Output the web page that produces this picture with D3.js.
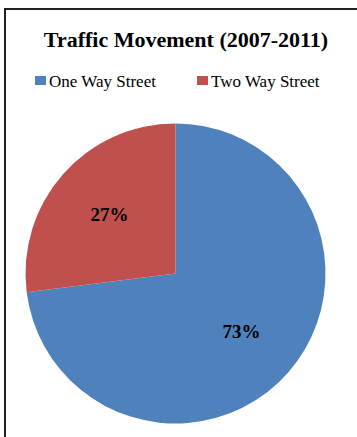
<!DOCTYPE html>
<html><head><meta charset="utf-8">
<script src="https://cdn.jsdelivr.net/npm/d3@7"></script>
<style>
body{margin:0;background:#fff}
#wrap{position:relative;width:357px;height:437px;overflow:hidden}
#wrap svg{position:absolute;left:0;top:0}
.t{position:absolute;font-family:'Liberation Serif','Times New Roman',serif;white-space:nowrap;line-height:1;color:#000}
</style>
</head><body>
<div id="wrap"><svg width="357" height="437"></svg></div>
<script>
const categories = ["One Way Street", "Two Way Street"];
const values = [73, 27];
const labels = ["73%", "27%"];
const colors = ["#4F81BD", "#C0504D"];

const wrap = d3.select("#wrap");
const svg = wrap.select("svg");
svg.append("rect").attr("x", 5).attr("y", 9).attr("width", 360).attr("height", 440)
  .attr("fill", "#fff").attr("stroke", "#222").attr("stroke-width", 2);

wrap.append("div").attr("class", "t")
  .style("left", "0px").style("width", "372px").style("text-align", "center")
  .style("top", "29px").style("font-size", "22px").style("font-weight", "bold")
  .text("Traffic Movement (2007-2011)");

const legendX = [35, 197];
categories.forEach((c, i) => {
  svg.append("rect").attr("x", legendX[i]).attr("y", 76).attr("width", 11).attr("height", 9).attr("fill", colors[i]);
  wrap.append("div").attr("class", "t")
    .style("left", (legendX[i] + 14) + "px").style("top", "73px").style("font-size", "17px")
    .text(c);
});

const cx = 175.5, cy = 273.5, r = 150;
const pie = d3.pie().sort(null).value(d => d)(values);
const arc = d3.arc().innerRadius(0).outerRadius(r);
const g = svg.append("g").attr("transform", `translate(${cx},${cy})`);
g.selectAll("path").data(pie).join("path").attr("d", arc).attr("fill", (d, i) => colors[i]);
const larc = d3.arc().innerRadius(176).outerRadius(0);
pie.forEach((d, i) => {
  const [x, y] = larc.centroid(d);
  wrap.append("div").attr("class", "t")
    .style("left", (cx + x - 30) + "px").style("width", "60px").style("text-align", "center")
    .style("top", (cy + y - 10) + "px").style("font-size", "19px").style("font-weight", "bold")
    .text(labels[i]);
});
</script>
</body></html>
